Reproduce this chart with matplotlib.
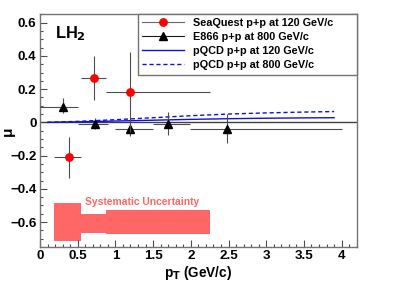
import matplotlib
matplotlib.use("Agg")
import matplotlib.pyplot as plt
from matplotlib.lines import Line2D
from matplotlib.patches import Rectangle
import numpy as np

plt.rcParams['font.family'] = ['Liberation Sans', 'DejaVu Sans']
plt.rcParams['font.weight'] = 'bold'

# SeaQuest p+p at 120 GeV/c
sq_pt = [0.39, 0.71, 1.19]
sq_mu = [-0.21, 0.268, 0.184]
sq_ylo = [0.125, 0.134, 0.24]
sq_yhi = [0.12, 0.132, 0.24]
sq_xlo = [0.20, 0.17, 0.31]
sq_xhi = [0.16, 0.17, 1.06]

# E866 p+p at 800 GeV/c
e866_pt = [0.30, 0.73, 1.20, 1.70, 2.48]
e866_mu = [0.094, -0.012, -0.04, -0.01, -0.04]
e866_ylo = [0.04, 0.028, 0.04, 0.066, 0.086]
e866_yhi = [0.05, 0.04, 0.04, 0.074, 0.088]
e866_xlo = [0.30, 0.22, 0.21, 0.20, 0.49]
e866_xhi = [0.21, 0.17, 0.30, 0.29, 1.52]

# pQCD curves
pqcd_pt = [0.1, 0.5, 1.0, 1.5, 2.0, 2.5, 3.0, 3.5, 3.9]
pqcd_120 = [0.0, 0.003, 0.008, 0.013, 0.018, 0.022, 0.025, 0.027, 0.028]
pqcd_800 = [0.0, 0.006, 0.016, 0.028, 0.040, 0.050, 0.057, 0.062, 0.065]

# systematic uncertainty bands (x range, half height around -0.6)
sys_xlo = [0.19, 0.55, 0.88]
sys_xhi = [0.55, 0.88, 2.25]
sys_center = [-0.601, -0.609, -0.601]
sys_half = [0.115, 0.057, 0.071]

fig = plt.figure(figsize=(3.97, 2.85), dpi=100)
ax = fig.add_axes([0.1008, 0.1333, 0.7977, 0.8193])

band_col = '#ff6666'
for x0, x1, c, h in zip(sys_xlo, sys_xhi, sys_center, sys_half):
    ax.add_patch(Rectangle((x0, c - h), x1 - x0, 2 * h, color=band_col, lw=0, zorder=1))
ax.text(0.6, -0.48, 'Systematic Uncertainty', color=band_col, fontsize=7.4,
        fontweight='bold', va='center', ha='left')

ax.axhline(0, color='0.25', lw=1.0, zorder=2)

ax.plot(pqcd_pt, pqcd_120, color='#1010dd', lw=1.0, zorder=3)
ax.plot(pqcd_pt, pqcd_800, color='#1010dd', lw=1.0, ls=(0, (3, 2)), zorder=3)

ax.errorbar(e866_pt, e866_mu, yerr=[e866_ylo, e866_yhi], xerr=[e866_xlo, e866_xhi],
            fmt='^', color='black', ecolor='0.3', elinewidth=0.8, ms=5.2, capsize=0, zorder=4)
ax.errorbar(sq_pt, sq_mu, yerr=[sq_ylo, sq_yhi], xerr=[sq_xlo, sq_xhi],
            fmt='o', color='red', mfc='red', mec='red', ecolor='0.3', elinewidth=0.8,
            ms=5.3, capsize=0, zorder=5)

ax.set_xlim(0, 4.2)
ax.set_ylim(-0.75, 0.655)
ax.set_xticks([0, 0.5, 1, 1.5, 2, 2.5, 3, 3.5, 4])
ax.set_xticklabels(['0', '0.5', '1', '1.5', '2', '2.5', '3', '3.5', '4'])
ax.set_xticks(np.arange(0, 4.21, 0.1), minor=True)
ax.set_yticks([-0.6, -0.4, -0.2, 0, 0.2, 0.4, 0.6])
ax.set_yticklabels(['\u22120.6', '\u22120.4', '\u22120.2', '0', '0.2', '0.4', '0.6'])
ax.set_yticks(np.arange(-0.75, 0.66, 0.05), minor=True)
ax.tick_params(which='both', direction='in', top=False, right=False, color='0.3',
               labelsize=9.6, pad=2.5)
ax.tick_params(which='major', length=5, width=0.8)
ax.tick_params(which='minor', length=2.5, width=0.8)
for lab in ax.get_xticklabels() + ax.get_yticklabels():
    lab.set_fontweight('bold')
for sp in ax.spines.values():
    sp.set_color('0.45')
    sp.set_linewidth(1.0)

ax.set_xlabel(r'p$_\mathbf{T}$ (GeV/c)', fontsize=9.8, fontweight='bold', labelpad=1)
ax.set_ylabel('\u03bc', fontsize=11, fontweight='bold', va='center', ha='center')
ax.yaxis.set_label_coords(-0.101, 0.497)

ax.text(0.047, 0.895, r'LH$_\mathbf{2}$', transform=ax.transAxes, fontsize=11.8,
        fontweight='bold', va='baseline', ha='left')

handles = [
    Line2D([], [], color='0.4', lw=0.8, marker='o', mfc='red', mec='red', ms=5.3),
    Line2D([], [], color='0.1', lw=0.8, marker='^', mfc='black', mec='black', ms=5.2),
    Line2D([], [], color='#1010dd', lw=1.0),
    Line2D([], [], color='#1010dd', lw=1.0, ls=(0, (3, 2))),
]
labels = ['SeaQuest p+p at 120 GeV/c', 'E866 p+p at 800 GeV/c',
          'pQCD p+p at 120 GeV/c', 'pQCD p+p at 800 GeV/c']
leg = ax.legend(handles, labels, loc='upper left', bbox_to_anchor=(0.309, 0.754, 0.691, 0.246),
                mode='expand', borderaxespad=0, fancybox=False, framealpha=1, edgecolor='0.45',
                prop={'size': 7.8, 'weight': 'bold'}, handlelength=3.9,
                labelspacing=0.38, borderpad=0.4, handletextpad=0.8)
leg.get_frame().set_linewidth(1.0)

fig.savefig('out.png', dpi=100)
